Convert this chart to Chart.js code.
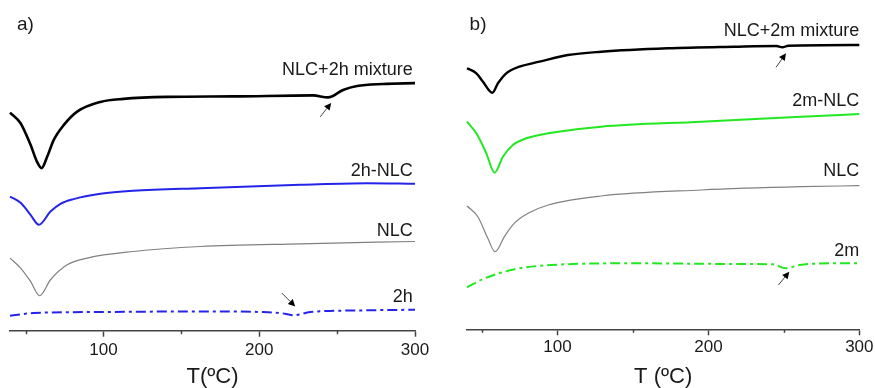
<!DOCTYPE html>
<html>
<head>
<meta charset="utf-8">
<script src="https://cdn.jsdelivr.net/npm/chart.js@4.4.0/dist/chart.umd.min.js"></script>
<style>
  html, body { margin: 0; padding: 0; background: #fff; }
  #wrap { position: relative; width: 875px; height: 388px; }
  #chartA { position: absolute; left: 0; top: 0; }
  #chartB { position: absolute; left: 437px; top: 0; }
</style>
</head>
<body>
<div id="wrap">
  <canvas id="chartA" width="437" height="388"></canvas>
  <canvas id="chartB" width="438" height="388"></canvas>
</div>
<script>
// panel a) temperatures (C) and heat flow (a.u., offset curves)
var tMixA = [40, 46.8, 53.2, 57.3, 60.3, 63.9, 68.1, 74.6, 83.1, 98.1, 112.8, 141, 183.3, 234.6, 244.2, 253.8, 262.8, 279.5, 300];
var mixA  = [21.83, 20.77, 18.6, 16.93, 16.27, 17.43, 19.1, 20.6, 21.93, 22.9, 23.2, 23.4, 23.45, 23.55, 23.35, 24.1, 24.5, 24.7, 24.78];

var tLoadA = [40, 46.8, 53.2, 58.5, 66, 72.4, 80.8, 98.1, 119.2, 162.2, 226.3, 269.2, 300];
var loadA  = [13.43, 12.8, 11.6, 10.6, 11.93, 12.7, 13.17, 13.7, 14.0, 14.27, 14.6, 14.77, 14.7];

var tNlcA = [40, 46.8, 53.2, 59, 66, 76.7, 89.6, 119.2, 162.2, 226.3, 300];
var nlcA  = [7.27, 6.27, 4.93, 3.5, 5.1, 6.6, 7.27, 7.93, 8.43, 8.7, 8.93];

var tDrugA = [40, 55.1, 98.1, 162.2, 200.6, 213.5, 222.5, 232.7, 264.7, 300];
var drugA  = [1.5, 1.77, 1.87, 1.93, 1.87, 1.77, 1.55, 1.87, 2.03, 2.1];

// panel b)
var tMixB = [40, 46.2, 50.6, 56.8, 60.5, 66, 74.8, 88, 106.8, 128.9, 173, 217.2, 245, 249, 253, 300];
var mixB  = [26.1, 25.6, 24.76, 23.66, 24.6, 25.6, 26.26, 26.76, 27.43, 27.76, 28.1, 28.26, 28.33, 28.2, 28.36, 28.43];

var tLoadB = [40, 46.2, 52.8, 58.3, 63.8, 70.4, 79.3, 88, 100.5, 128.9, 195.2, 261.4, 300];
var loadB  = [20.76, 19.6, 17.6, 15.66, 17.26, 18.43, 19.1, 19.43, 19.76, 20.26, 20.76, 21.26, 21.53];

var tNlcB = [40, 47.2, 53.8, 58.6, 64.9, 71.5, 80.5, 93.8, 128.9, 195.2, 261.4, 300];
var nlcB  = [12.33, 11.26, 9.1, 7.76, 9.3, 10.64, 11.6, 12.43, 13.33, 13.93, 14.26, 14.36];

var tDrugB = [40, 51.7, 71.5, 95.8, 151, 220.5, 242.6, 251.4, 260.3, 286.8, 300];
var drugB  = [4.2, 5.1, 6.0, 6.43, 6.6, 6.53, 6.5, 6.1, 6.43, 6.6, 6.6];

var xTicks = [50, 100, 150, 200, 250, 300];

function pts(t, v) {
  return t.map(function(x, i) { return {x: x, y: v[i]}; });
}

function line(t, v, color, width, dash) {
  return {
    data: pts(t, v),
    borderColor: color,
    borderWidth: width,
    borderDash: dash || [],
    pointRadius: 0,
    fill: false,
    cubicInterpolationMode: 'monotone',
    clip: false
  };
}

function drawArrow(ctx, x1, y1, x2, y2) {
  var ang = Math.atan2(y2 - y1, x2 - x1);
  var hl = 7, hw = 3.5;
  var bx = x2 - hl * Math.cos(ang), by = y2 - hl * Math.sin(ang);
  ctx.strokeStyle = '#444';
  ctx.lineWidth = 1;
  ctx.beginPath();
  ctx.moveTo(x1, y1);
  ctx.lineTo(bx, by);
  ctx.stroke();
  ctx.fillStyle = '#000';
  ctx.beginPath();
  ctx.moveTo(x2, y2);
  ctx.lineTo(bx + hw * Math.sin(ang), by - hw * Math.cos(ang));
  ctx.lineTo(bx - hw * Math.sin(ang), by + hw * Math.cos(ang));
  ctx.closePath();
  ctx.fill();
}

var annotPlugin = {
  id: 'annot',
  afterDatasetsDraw: function(chart, args, opts) {
    var ctx = chart.ctx, xs = chart.scales.x, ys = chart.scales.y;
    ctx.save();
    // minor ticks
    ctx.strokeStyle = '#444';
    ctx.lineWidth = 1.5;
    xTicks.forEach(function(v) {
      if (v % 100 === 0) return;
      var px = Math.round(xs.getPixelForValue(v)) + 0.5;
      ctx.beginPath();
      ctx.moveTo(px, xs.top);
      ctx.lineTo(px, xs.top + 3.5);
      ctx.stroke();
    });
    ctx.fillStyle = '#1a1a1a';
    ctx.textBaseline = 'middle';
    opts.labels.forEach(function(l) {
      ctx.textAlign = l.align || 'right';
      ctx.font = (l.big ? '19px' : '18px') + ' "Liberation Sans", Arial, sans-serif';
      ctx.fillText(l.text, xs.getPixelForValue(l.t), ys.getPixelForValue(l.v));
    });
    opts.arrows.forEach(function(a) {
      drawArrow(ctx, xs.getPixelForValue(a[0]), ys.getPixelForValue(a[1]),
                xs.getPixelForValue(a[2]), ys.getPixelForValue(a[3]));
    });
    ctx.restore();
  }
};

function makeChart(id, datasets, title, yMax, pad, axisHeight, tickPad, labels, arrows) {
  return new Chart(document.getElementById(id), {
    type: 'line',
    data: { datasets: datasets },
    plugins: [annotPlugin],
    options: {
      responsive: false,
      animation: false,
      maintainAspectRatio: false,
      layout: { padding: pad },
      plugins: {
        legend: { display: false },
        tooltip: { enabled: false },
        annot: { labels: labels, arrows: arrows }
      },
      scales: {
        x: {
          type: 'linear',
          min: 40,
          max: 300,
          afterBuildTicks: function(s) {
            s.ticks = xTicks.map(function(v) { return {value: v}; });
          },
          afterFit: function(s) { s.height = axisHeight; },
          ticks: {
            autoSkip: false,
            maxRotation: 0,
            padding: tickPad,
            color: '#1a1a1a',
            font: { family: '"Liberation Sans", Arial, sans-serif', size: 17 },
            callback: function(v) { return v % 100 === 0 ? String(v) : ''; }
          },
          grid: {
            drawOnChartArea: false,
            drawTicks: true,
            tickLength: 6,
            tickWidth: 1.5,
            tickColor: function(c) { return (c.tick && c.tick.value % 100 === 0) ? '#444' : 'rgba(0,0,0,0)'; }
          },
          border: { display: true, color: '#444', width: 1.5 },
          title: {
            display: true,
            text: title,
            color: '#1a1a1a',
            font: { family: '"Liberation Sans", Arial, sans-serif', size: 22, lineHeight: 1.0 },
            padding: { top: 0, bottom: 0 }
          }
        },
        y: {
          display: false,
          min: 0,
          max: yMax
        }
      }
    }
  });
}

makeChart('chartA', [
    line(tMixA, mixA, '#000000', 2.6),
    line(tLoadA, loadA, '#2424e8', 2),
    line(tNlcA, nlcA, '#808080', 1.2),
    line(tDrugA, drugA, '#2424e8', 2, [10, 4, 3, 4])
  ], 'T(ºC)', 33.1, {left: 10, right: 22, top: 0, bottom: 0}, 57.3, 3,
  [
    {text: 'a)', t: 44.5, v: 30.6, align: 'left', big: true},
    {text: 'NLC+2h mixture', t: 298.5, v: 26.1},
    {text: '2h-NLC', t: 298.5, v: 16.0},
    {text: 'NLC', t: 298.5, v: 10.0},
    {text: '2h', t: 298.5, v: 3.35}
  ],
  [
    [239.1, 21.4, 246.2, 22.8],
    [214.5, 3.77, 223.1, 2.43]
  ]);

makeChart('chartB', [
    line(tMixB, mixB, '#000000', 2.4),
    line(tLoadB, loadB, '#22e822', 2),
    line(tNlcB, nlcB, '#808080', 1.2),
    line(tDrugB, drugB, '#22e822', 2, [10, 4, 3, 4])
  ], 'T (ºC)', 32.93, {left: 30, right: 15, top: 0, bottom: 0}, 58.7, 1.5,
  [
    {text: 'b)', t: 41.7, v: 30.45, align: 'left', big: true},
    {text: 'NLC+2m mixture', t: 300, v: 29.8},
    {text: '2m-NLC', t: 300, v: 22.85},
    {text: 'NLC', t: 300, v: 15.85},
    {text: '2m', t: 300, v: 7.85}
  ],
  [
    [244.8, 26.2, 251.4, 27.6],
    [246.4, 4.43, 253.6, 5.76]
  ]);
</script>
</body>
</html>
